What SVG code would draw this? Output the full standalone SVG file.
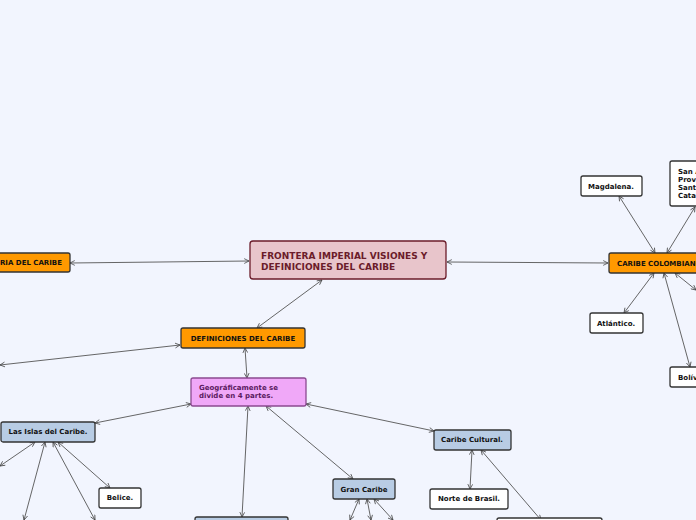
<svg xmlns="http://www.w3.org/2000/svg" width="696" height="520" viewBox="0 0 696 520">
<style>
.n rect{stroke-width:1.3;}
.o rect{fill:#ff9900;stroke:#333;}
.w rect{fill:#fff;stroke:#333;}
.b rect{fill:#b8cce4;stroke:#333;}
text{font-family:Verdana,"DejaVu Sans",sans-serif;font-weight:bold;font-size:7px;fill:#111;}
#conn line{stroke:#555;stroke-width:0.9;marker-start:url(#a);marker-end:url(#a);}
</style>
<defs>
<marker id="a" viewBox="0 0 10 10" refX="9" refY="5" markerWidth="6" markerHeight="6" orient="auto-start-reverse" markerUnits="userSpaceOnUse"><path d="M1,1 L9,5 L1,9" fill="none" stroke="#444" stroke-width="1.3"/></marker>
</defs>
<rect width="696" height="520" fill="#f2f5fe"/>
<g id="conn">
<line x1="249" y1="261" x2="70" y2="263"/>
<line x1="447" y1="262" x2="608" y2="263"/>
<line x1="322" y1="280" x2="257" y2="328"/>
<line x1="245" y1="348" x2="247" y2="378"/>
<line x1="180" y1="345" x2="0" y2="365"/>
<line x1="191" y1="404" x2="95" y2="423"/>
<line x1="306" y1="404" x2="434" y2="431"/>
<line x1="248" y1="406" x2="242" y2="517"/>
<line x1="266" y1="406" x2="353" y2="479"/>
<line x1="58" y1="442" x2="110" y2="488"/>
<line x1="35" y1="442" x2="0" y2="466"/>
<line x1="45" y1="442" x2="24" y2="520"/>
<line x1="53" y1="442" x2="95" y2="520"/>
<line x1="472" y1="450" x2="470" y2="489"/>
<line x1="481" y1="450" x2="541" y2="520"/>
<line x1="359" y1="499" x2="350" y2="520"/>
<line x1="367" y1="499" x2="371" y2="520"/>
<line x1="374" y1="499" x2="393" y2="520"/>
<line x1="619" y1="196" x2="655" y2="253"/>
<line x1="695" y1="207" x2="667" y2="253"/>
<line x1="654" y1="273" x2="624" y2="313"/>
<line x1="664" y1="273" x2="690" y2="367"/>
<line x1="675" y1="273" x2="696" y2="290"/>
<line x1="695" y1="270" x2="694" y2="270"/>
</g>
<g id="main" class="n"><rect x="250" y="241" width="196" height="38" rx="3" fill="#e8c5cb" stroke="#6b1c2a"/><text x="261" y="259" style="font-size:9px;fill:#6b1c2a">FRONTERA IMPERIAL VISIONES Y</text><text x="261" y="270" style="font-size:9px;fill:#6b1c2a">DEFINICIONES DEL  CARIBE</text></g>
<g id="historia" class="n o"><rect x="-30" y="253" width="100" height="19" rx="2"/><text x="62" y="265" text-anchor="end">HISTORIA DEL CARIBE</text></g>
<g id="definiciones" class="n o"><rect x="181" y="328" width="124" height="20" rx="2"/><text x="243" y="341" text-anchor="middle">DEFINICIONES DEL CARIBE</text></g>
<g id="geo" class="n"><rect x="191" y="378" width="115" height="28" rx="2" fill="#f0a8f8" stroke="#8a4a90"/><text x="199" y="390" style="fill:#5a1a60">Geográficamente se</text><text x="199" y="398" style="fill:#5a1a60">divide en 4 partes.</text></g>
<g id="islas" class="n b"><rect x="1" y="422" width="94" height="20" rx="2"/><text x="48" y="434" text-anchor="middle">Las Islas del Caribe.</text></g>
<g id="belice" class="n w"><rect x="99" y="488" width="42" height="20" rx="2"/><text x="120" y="500" text-anchor="middle">Belice.</text></g>
<g id="gran" class="n b"><rect x="333" y="479" width="62" height="20" rx="2"/><text x="364" y="492" text-anchor="middle">Gran Caribe</text></g>
<g id="cultural" class="n b"><rect x="434" y="430" width="77" height="20" rx="2"/><text x="472" y="442" text-anchor="middle">Caribe Cultural.</text></g>
<g id="brasil" class="n w"><rect x="430" y="489" width="78" height="20" rx="2"/><text x="469" y="501" text-anchor="middle">Norte de Brasil.</text></g>
<g id="bot1" class="n b"><rect x="195" y="517" width="93" height="20" rx="2"/></g>
<g id="bot2" class="n w"><rect x="497" y="518" width="105" height="20" rx="2"/></g>
<g id="colombiano" class="n o"><rect x="609" y="253" width="100" height="20" rx="2"/><text x="617" y="266">CARIBE COLOMBIANO</text></g>
<g id="magdalena" class="n w"><rect x="581" y="176" width="61" height="20" rx="2"/><text x="611" y="189" text-anchor="middle">Magdalena.</text></g>
<g id="sanandres" class="n w"><rect x="670" y="161" width="40" height="45" rx="2"/><text x="678" y="174">San Andrés,</text><text x="678" y="182">Providencia y</text><text x="678" y="190">Santa</text><text x="678" y="198">Catalina.</text></g>
<g id="atlantico" class="n w"><rect x="590" y="313" width="53" height="20" rx="2"/><text x="616" y="326" text-anchor="middle">Atlántico.</text></g>
<g id="bolivar" class="n w"><rect x="670" y="367" width="40" height="20" rx="2"/><text x="678" y="380">Bolívar.</text></g>
</svg>
